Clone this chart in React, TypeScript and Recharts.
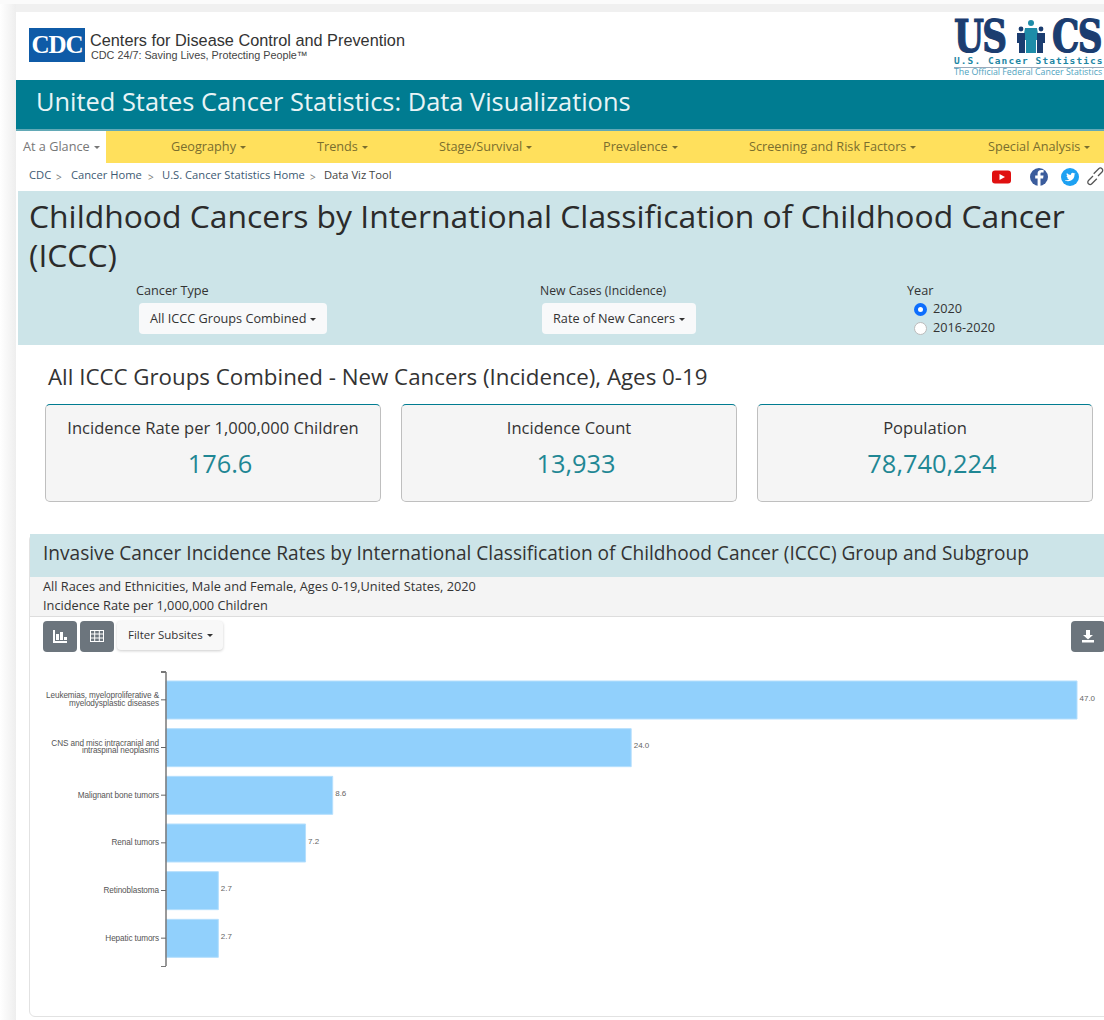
import React from "react";
import { BarChart, Bar, XAxis, YAxis, LabelList } from "recharts";

const categories = [
  "Leukemias, myeloproliferative & myelodysplastic diseases",
  "CNS and misc intracranial and intraspinal neoplasms",
  "Malignant bone tumors",
  "Renal tumors",
  "Retinoblastoma",
  "Hepatic tumors",
];
const tickLines: Record<string, string[]> = {
  [categories[0]]: ["Leukemias, myeloproliferative &", "myelodysplastic diseases"],
  [categories[1]]: ["CNS and misc intracranial and", "intraspinal neoplasms"],
};
const rates = [47.0, 24.0, 8.6, 7.2, 2.7, 2.7];
const chartData = categories.map((name, i) => ({ name, rate: rates[i] }));

const navItems: [string, number][] = [
  ["Geography", 171],
  ["Trends", 317],
  ["Stage/Survival", 439],
  ["Prevalence", 603],
  ["Screening and Risk Factors", 749],
  ["Special Analysis", 988],
];
const crumbs: [string, number][] = [
  ["CDC", 29],
  ["Cancer Home", 71],
  ["U.S. Cancer Statistics Home", 162],
  ["Data Viz Tool", 324],
];
const kpis: [string, string, number][] = [
  ["Incidence Rate per 1,000,000 Children", "176.6", 45],
  ["Incidence Count", "13,933", 401],
  ["Population", "78,740,224", 757],
];

const SANS = "'Open Sans', sans-serif";
const UI = 12.7;

function T({ x, y, size, color = "#333", children, font = SANS, weight = 400, center, spacing, scaleX, stroke }: any) {
  return (
    <div
      style={{
        position: "absolute",
        left: center ? x - 300 : x,
        width: center ? 600 : undefined,
        textAlign: center ? "center" : undefined,
        top: y - size,
        lineHeight: `${size * 2}px`,
        fontSize: size,
        color,
        fontFamily: font,
        fontWeight: weight,
        whiteSpace: "nowrap",
        letterSpacing: spacing,
        transform: scaleX ? `scaleX(${scaleX})` : undefined,
        transformOrigin: "left center",
        WebkitTextStroke: stroke,
      }}
    >
      {children}
    </div>
  );
}

function Box({ x, y, w, h, style }: any) {
  return <div style={{ position: "absolute", left: x, top: y, width: w, height: h, boxSizing: "border-box", ...style }} />;
}

const Caret = ({ color = "#555" }: any) => (
  <span
    style={{
      display: "inline-block",
      marginLeft: 4,
      verticalAlign: 2,
      borderTop: `3.5px solid ${color}`,
      borderLeft: "3px solid transparent",
      borderRight: "3px solid transparent",
    }}
  />
);

function CategoryTick({ x, y, payload }: any) {
  const lines = tickLines[payload.value] ?? [payload.value];
  const startDy = lines.length === 2 ? -4.5 : 0;
  return (
    <text x={x} y={y} textAnchor="end" fontSize={8.2} fill="#555" fontFamily="'Liberation Sans', Arial, sans-serif" letterSpacing={-0.1}>
      {lines.map((l: string, i: number) => (
        <tspan key={l} x={x} y={y + startDy + i * 7.7 + 2.5}>
          {l}
        </tspan>
      ))}
    </text>
  );
}

function ValueLabel({ x, y, width, height, value }: any) {
  return (
    <text x={x + width + 2.5} y={y + height / 2 + 0.5} fontSize={8} fill="#666" fontFamily="'Liberation Sans', Arial, sans-serif">
      {Number(value).toFixed(1)}
    </text>
  );
}

export default function App() {
  return (
    <div style={{ position: "absolute", left: 0, top: 0, width: 1104, height: 1020, overflow: "hidden", background: "#fff" }}>
      <Box x={0} y={0} w={1104} h={4} style={{ background: "#fbfbfb" }} />
      <Box x={0} y={4} w={1104} h={8} style={{ background: "#f0f0f0" }} />
      <Box x={0} y={4} w={16} h={1016} style={{ background: "linear-gradient(to right, #ffffff, #eeeeee)" }} />
      <Box x={16} y={12} w={1088} h={1008} style={{ background: "#fff" }} />

      {/* CDC logo */}
      <Box x={29} y={28} w={56} h={34} style={{ background: "#0F5BA7" }} />
      <T x={57} y={45} size={25} color="#fff" font="'Liberation Serif', serif" weight={700} center spacing={-1}>
        CDC
      </T>
      <T x={90} y={40} size={16.3} color="#333" font="'Liberation Sans', sans-serif">
        Centers for Disease Control and Prevention
      </T>
      <T x={91} y={56} size={10.8} color="#444" font="'Liberation Sans', sans-serif">
        CDC 24/7: Saving Lives, Protecting People™
      </T>

      {/* USCS logo */}
      <T x={954} y={37} size={44} color="#1B3D70" font="'DejaVu Serif', serif" weight={700} spacing={-2} scaleX={0.78} stroke="1.2px #1B3D70">
        US
      </T>
      <svg style={{ position: "absolute", left: 1015, top: 20, width: 32, height: 34 }} viewBox="0 0 32 34">
        <circle cx="16" cy="3" r="3" fill="#1E8CA8" />
        <path d="M10 8h12l2 12h-3v13h-10v-13h-3z" fill="#1E8CA8" />
        <circle cx="6" cy="9" r="2.4" fill="#1B3D70" />
        <path d="M2 13h8v20h-6v-10h-2z" fill="#1B3D70" />
        <circle cx="26" cy="9" r="2.4" fill="#1B3D70" />
        <path d="M22 13h8v10h-2v10h-6z" fill="#1B3D70" />
      </svg>
      <T x={1052} y={37} size={44} color="#1B3D70" font="'DejaVu Serif', serif" weight={700} spacing={-2} scaleX={0.78} stroke="1.2px #1B3D70">
        CS
      </T>
      <T x={954} y={60} size={9.5} color="#1E86A4" font="'DejaVu Sans Mono', monospace" weight={700} spacing={1.08}>
        U.S. Cancer Statistics
      </T>
      <Box x={954} y={67} w={150} h={1} style={{ background: "#9ab" }} />
      <T x={954} y={73} size={8.8} color="#4FA3BE" font={SANS}>
        The Official Federal Cancer Statistics
      </T>

      {/* Title band */}
      <Box x={16} y={80} w={1088} h={49} style={{ background: "#007C91" }} />
      <Box x={16} y={129} w={1088} h={2} style={{ background: "#62A9B6" }} />
      <T x={36} y={101} size={25.4} color="#E8F4F6">
        United States Cancer Statistics: Data Visualizations
      </T>

      {/* Nav */}
      <Box x={16} y={131} w={1088} h={32} style={{ background: "#FFE05C" }} />
      <Box x={16} y={131} w={90} h={32} style={{ background: "#fff" }} />
      <T x={23} y={147} size={UI} color="#777">
        At a Glance<Caret color="#777" />
      </T>
      {navItems.map(([label, x]) => (
        <T key={label} x={x} y={147} size={UI} color="#7A6E2E">
          {label}
          <Caret color="#7A6E2E" />
        </T>
      ))}

      {/* Breadcrumb */}
      {crumbs.map(([label, x], i) => (
        <React.Fragment key={label}>
          <T x={x} y={175} size={11.2} color={i === 3 ? "#444" : "#3D5A73"}>
            {label}
          </T>
          {i < 3 && (
            <T x={x === 29 ? 56 : x === 71 ? 148 : 310} y={177} size={10} color="#777">
              &gt;
            </T>
          )}
        </React.Fragment>
      ))}
      <svg style={{ position: "absolute", left: 990, top: 167, width: 114, height: 20 }} viewBox="0 0 114 20">
        <rect x="2" y="3.5" width="19" height="13" rx="3" fill="#E01010" />
        <path d="M9.5 7l5.5 3-5.5 3z" fill="#fff" />
        <circle cx="49" cy="10" r="9" fill="#3B5C9C" />
        <path d="M50.5 19v-7.5h2.6l.4-3h-3v-1.7c0-.9.3-1.4 1.5-1.4h1.6V2.9h-2.4c-2.3 0-3.6 1.3-3.6 3.6v2h-2.4v3h2.4V19z" fill="#fff" />
        <circle cx="80" cy="10" r="9" fill="#1DA1F2" />
        <path d="M75 13.5c3.5 1.6 9.5.4 9.5-6l1-1.2-1.2.3c-1.2-1.7-4-.6-3.4 1.5-1.6 0-3-.8-4-2-.6 1.200-.2 2.400.6 3l-.9-.2c0 1 .7 1.800 1.700 2.100h-1c.3.800 1 1.300 2 1.400-1.200.8-2.500 1-4.300.6z" fill="#fff" />
        <path d="M103 9l-4.500 4.500a2.300 2.300 0 0 0 3.300 3.300l5-5M108 9l4-4a2.300 2.300 0 0 0-3.300-3.300l-5 5" fill="none" stroke="#555" strokeWidth="1.300" />
      </svg>

      {/* Title panel */}
      <Box x={18} y={191} w={1086} h={154} style={{ background: "#CCE4E8" }} />
      <T x={29} y={216} size={31.85} color="#2b2b2b">
        Childhood Cancers by International Classification of Childhood Cancer
      </T>
      <T x={29} y={255} size={31.85} color="#2b2b2b">
        (ICCC)
      </T>
      <T x={136} y={291} size={UI} color="#333">
        Cancer Type
      </T>
      <Box x={139} y={303} w={188} h={31} style={{ background: "#f8f9fa", borderRadius: 4 }} />
      <T x={150} y={319} size={UI} color="#333">
        All ICCC Groups Combined
        <Caret color="#333" />
      </T>
      <T x={540} y={291} size={12.2} color="#333">
        New Cases (Incidence)
      </T>
      <Box x={542} y={303} w={154} h={31} style={{ background: "#f8f9fa", borderRadius: 4 }} />
      <T x={553} y={319} size={UI} color="#333">
        Rate of New Cancers
        <Caret color="#333" />
      </T>
      <T x={907} y={291} size={UI} color="#333">
        Year
      </T>
      <Box x={914} y={303} w={13} h={13} style={{ borderRadius: "50%", background: "#fff", border: "4px solid #0D6EFD" }} />
      <T x={933} y={309} size={UI} color="#333">
        2020
      </T>
      <Box x={914} y={322} w={13} h={13} style={{ borderRadius: "50%", background: "#fff", border: "1px solid #bbb" }} />
      <T x={933} y={328} size={UI} color="#333">
        2016-2020
      </T>

      {/* KPI */}
      <T x={48} y={377} size={22.3} color="#333">
        All ICCC Groups Combined - New Cancers (Incidence), Ages 0-19
      </T>
      {kpis.map(([label, value, x]) => (
        <React.Fragment key={label}>
          <Box
            x={x}
            y={404}
            w={336}
            h={98}
            style={{ background: "#F5F5F5", border: "1px solid #BFBFBF", borderTop: "1px solid #007C91", borderRadius: 5 }}
          />
          <T x={x + 168} y={428} size={16.55} color="#333" center>
            {label}
          </T>
          <T x={x + 175} y={463} size={25.4} color="#1F8794" center>
            {value}
          </T>
        </React.Fragment>
      ))}

      {/* Chart card */}
      <Box x={29} y={534} w={1085} h={483} style={{ background: "#fff", border: "1px solid #E2E2E2", borderRadius: 6 }} />
      <Box x={30} y={534} w={1074} h={43} style={{ background: "#CCE4E8" }} />
      <Box x={30} y={577} w={1074} h={40} style={{ background: "#F4F4F4", borderBottom: "1px solid #DDD" }} />
      <T x={43} y={553} size={19.1} color="#333">
        Invasive Cancer Incidence Rates by International Classification of Childhood Cancer (ICCC) Group and Subgroup
      </T>
      <T x={43} y={587} size={12.75} color="#333">
        All Races and Ethnicities, Male and Female, Ages 0-19,United States, 2020
      </T>
      <T x={43} y={606} size={12.75} color="#333">
        Incidence Rate per 1,000,000 Children
      </T>

      {/* Toolbar */}
      <Box x={43} y={621} w={34} h={31} style={{ background: "#6C757D", borderRadius: 4 }} />
      <svg style={{ position: "absolute", left: 52, top: 629, width: 16, height: 15 }} viewBox="0 0 16 15">
        <path d="M1 1h2v11h12v2H1zM4 5h3v6H4zM8 3h3v8H8zM12 8h3v3h-3z" fill="#fff" />
      </svg>
      <Box x={80} y={621} w={34} h={31} style={{ background: "#6C757D", borderRadius: 4 }} />
      <svg style={{ position: "absolute", left: 90, top: 630, width: 14, height: 12 }} viewBox="0 0 14 12">
        <rect x=".5" y=".5" width="13" height="11" fill="none" stroke="#fff" />
        <path d="M0 4h14M0 8h14M4.700 0v12M9.300 0v12" stroke="#fff" />
      </svg>
      <Box x={117} y={621} w={106} h={29} style={{ background: "#F8F8F8", borderRadius: 4, boxShadow: "0 1px 3px rgba(0,0,0,.2)" }} />
      <T x={128} y={634} size={11.5} color="#333">
        Filter Subsites
        <Caret color="#333" />
      </T>
      <Box x={1071} y={621} w={34} h={31} style={{ background: "#6C757D", borderRadius: 4 }} />
      <svg style={{ position: "absolute", left: 1081, top: 629, width: 14, height: 14 }} viewBox="0 0 14 14">
        <path d="M5 1h4v5h3l-5 4.500L2 6h3zM1 11h12v2.500H1z" fill="#fff" />
      </svg>

      {/* Chart */}
      <div style={{ position: "absolute", left: 30, top: 660 }}>
        <BarChart
          width={1074}
          height={320}
          data={chartData}
          layout="vertical"
          barSize={38}
          margin={{ top: 12, right: 27, bottom: 14, left: 0 }}
        >
          <XAxis type="number" domain={[0, 47]} hide height={0} />
          <YAxis
            type="category"
            dataKey="name"
            width={136}
            interval={0}
            padding={{ top: 4, bottom: 4 }}
            axisLine={{ stroke: "#777", strokeWidth: 1.5 }}
            tickLine={{ stroke: "#666" }}
            tickSize={5}
            tick={<CategoryTick />}
          />
          <Bar dataKey="rate" fill="#91D0FC" stroke="#B5DFFD" strokeWidth={1} isAnimationActive={false}>
            <LabelList dataKey="rate" content={<ValueLabel />} />
          </Bar>
        </BarChart>
      </div>
      <Box x={161} y={671} w={5} h={1.5} style={{ background: "#777" }} />
      <Box x={161} y={965.5} w={5} h={1.5} style={{ background: "#777" }} />
    </div>
  );
}
